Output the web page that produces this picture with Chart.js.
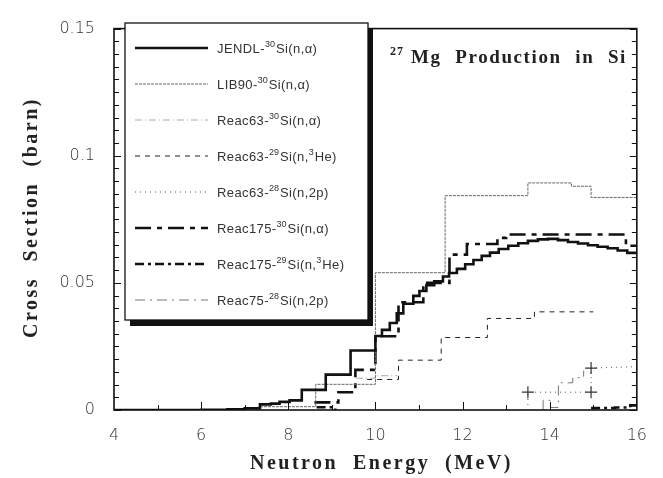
<!DOCTYPE html>
<html>
<head>
<meta charset="utf-8">
<script src="https://cdn.jsdelivr.net/npm/chart.js@4.4.1/dist/chart.umd.min.js"></script>
<style>
  html, body { margin: 0; padding: 0; background: #fff; }
  #wrap { width: 663px; height: 478px; }
</style>
</head>
<body>
<div id="wrap"><canvas id="c" width="663" height="478"></canvas></div>
<script>
// energies (MeV) are bin starts, values in barn
const jendlE = [4.0, 6.0, 6.6, 7.0, 7.35, 7.6, 7.8, 8.03, 8.31, 8.86, 9.43, 10.0, 10.15, 10.33, 10.49, 10.64, 10.87, 11.01, 11.17, 11.35, 11.55, 11.69, 11.87, 12.06, 12.25, 12.44, 12.63, 12.83, 13.05, 13.28, 13.5, 13.73, 13.96, 14.19, 14.42, 14.65, 14.88, 15.1, 15.33, 15.56, 15.78, 16.0];
const jendlXS = [0, 0.0001, 0.0003, 0.0007, 0.0022, 0.0025, 0.0032, 0.0038, 0.0079, 0.0139, 0.0234, 0.0291, 0.0315, 0.0342, 0.038, 0.0418, 0.0449, 0.0468, 0.0491, 0.0506, 0.0525, 0.0539, 0.0555, 0.0573, 0.059, 0.0606, 0.0619, 0.0633, 0.0646, 0.0656, 0.0665, 0.0671, 0.0673, 0.0668, 0.0661, 0.0655, 0.0648, 0.0642, 0.0636, 0.0627, 0.0618, 0.0614];

const lib90E = [7.35, 8.63, 10.0, 11.6, 13.5, 14.5, 14.95, 16.0];
const lib90XS = [0.0013, 0.0101, 0.054, 0.0843, 0.0893, 0.088, 0.0836, 0.0836];

const r63aE = [9.55, 10.0, 10.5];
const r63aXS = [0.0125, 0.0135, 0.0135];

const r63hE = [9.81, 10.53, 11.51, 12.57, 13.65, 15.0];
const r63hXS = [0.012, 0.0196, 0.0285, 0.036, 0.0386, 0.0386];

const r63pE = [13.5, 13.5, 14.95, 14.95, 15.9];
const r63pXS = [0, 0.007, 0.007, 0.0165, 0.017];

const r175aE = [8.6, 9.15, 9.54, 10.0, 10.53, 11.1, 11.7, 12.1, 12.8, 13.0, 15.75, 16.0];
const r175aXS = [0.003, 0.007, 0.0158, 0.029, 0.0424, 0.05, 0.0611, 0.0653, 0.0677, 0.069, 0.0646, 0.0646];

const r175hE = [8.65, 9.08, 9.1, 14.95, 15.5, 15.85, 16.0];
const r175hXS = [0.0011, 0, null, 0.0008, 0.001, 0.0018, 0.0018];

const r75pE = [13.85, 13.85, 14.02, 14.2, 14.53, 14.78];
const r75pXS = [0, 0.0038, 0.001, 0.0107, 0.0127, 0.0155];

const legendText = [
  'JENDL-^{30}Si(n,α)',
  'LIB90-^{30}Si(n,α)',
  'Reac63-^{30}Si(n,α)',
  'Reac63-^{29}Si(n,^{3}He)',
  'Reac63-^{28}Si(n,2p)',
  'Reac175-^{30}Si(n,α)',
  'Reac175-^{29}Si(n,^{3}He)',
  'Reac75-^{28}Si(n,2p)'
];
const yTicks = [0, 0.05, 0.1, 0.15];
const xTicks = [4, 6, 8, 10, 12, 14, 16];

function pts(es, vs) {
  return es.map((e, i) => ({ x: e, y: vs[i] }));
}

function line(i, es, vs, color, width, dash, extra) {
  return Object.assign({
    label: legendText[i].replace(/\^\{|\}/g, ''),
    data: pts(es, vs),
    borderColor: color,
    borderWidth: width,
    borderDash: dash,
    stepped: true,
    pointRadius: 0,
    fill: false,
    spanGaps: false
  }, extra || {});
}

const datasets = [
  line(0, jendlE, jendlXS, '#111', 2.6, []),
  line(1, lib90E, lib90XS, '#666', 1, [3, 1]),
  line(2, r63aE, r63aXS, '#aaa', 1, [7, 3, 1, 3]),
  line(3, r63hE, r63hXS, '#222', 1, [5, 5]),
  line(4, r63pE, r63pXS, '#555', 1, [1, 4], {
    stepped: false, pointStyle: 'cross', pointRadius: [0, 6, 6, 6, 0],
    pointBorderColor: '#333', pointBorderWidth: 1.2
  }),
  line(5, r175aE, r175aXS, '#111', 2.6, [16, 6, 5, 6]),
  line(6, r175hE, r175hXS, '#111', 2.6, [9, 4, 3, 4]),
  line(7, r75pE, r75pXS, '#777', 1, [10, 5, 2, 5])
];

// text with ^{..} superscripts
function richText(ctx, str, x, y, size) {
  const parts = str.split(/(\^\{[^}]*\})/);
  parts.forEach(p => {
    if (!p) return;
    if (p.startsWith('^{')) {
      const t = p.slice(2, -1);
      ctx.font = Math.round(size * 0.68) + 'px "Liberation Sans"';
      ctx.fillText(t, x, y - size * 0.45);
      x += ctx.measureText(t).width + 1;
    } else {
      ctx.font = size + 'px "Liberation Sans"';
      ctx.letterSpacing = '0.4px';
      ctx.fillText(p, x, y);
      x += ctx.measureText(p).width;
      ctx.letterSpacing = '0px';
    }
  });
}

// letter-spaced words spread over a given width
function wordSpread(ctx, text, x, y, width, ls) {
  ctx.letterSpacing = ls + 'px';
  const words = text.split(' ');
  const ws = words.map(w => ctx.measureText(w).width);
  const gap = (width - ws.reduce((s, v) => s + v, 0)) / (words.length - 1);
  words.forEach((w, i) => {
    ctx.fillText(w, x, y);
    x += ws[i] + gap;
  });
  ctx.letterSpacing = '0px';
}

const decor = {
  id: 'decor',
  afterDatasetsDraw(chart) {
    const { ctx, chartArea: a, scales: { x, y } } = chart;
    ctx.save();
    ctx.setLineDash([]);
    ctx.strokeStyle = '#111';

    // minor ticks on left / right / bottom
    ctx.lineWidth = 1;
    for (let i = 0; i <= 30; i++) {
      const py = Math.round(y.getPixelForValue(i * 0.005)) + 0.5;
      const len = i % 10 === 0 ? 7 : 5;
      ctx.beginPath();
      ctx.moveTo(a.left, py); ctx.lineTo(a.left + len, py);
      ctx.moveTo(a.right, py); ctx.lineTo(a.right - len, py);
      ctx.stroke();
    }
    for (let e = 5; e < 16; e++) {
      const px = Math.round(x.getPixelForValue(e)) + 0.5;
      const len = e % 2 === 0 ? 8 : 5;
      ctx.beginPath();
      ctx.moveTo(px, a.bottom); ctx.lineTo(px, a.bottom - len);
      ctx.stroke();
    }

    // frame
    ctx.lineWidth = 1.6;
    ctx.strokeRect(a.left, a.top, a.right - a.left, a.bottom - a.top);

    // legend box with heavy shadow
    const bx = 125, by = 23, bw = 243, bh = 297;
    ctx.fillStyle = '#111';
    ctx.fillRect(bx + 5, by + 6, bw, bh);
    ctx.fillStyle = '#fff';
    ctx.fillRect(bx, by, bw, bh);
    ctx.lineWidth = 1.3;
    ctx.strokeRect(bx, by, bw, bh);

    chart.data.datasets.forEach((ds, i) => {
      const ly = 48 + i * 36;
      ctx.save();
      ctx.strokeStyle = ds.borderColor;
      ctx.lineWidth = ds.borderWidth;
      ctx.setLineDash(ds.borderDash || []);
      ctx.beginPath();
      ctx.moveTo(135, ly); ctx.lineTo(208, ly);
      ctx.stroke();
      ctx.restore();
      ctx.fillStyle = '#333';
      ctx.textBaseline = 'alphabetic';
      ctx.textAlign = 'left';
      richText(ctx, legendText[i], 217, ly + 5, 13);
    });

    // plot title
    ctx.fillStyle = '#222';
    ctx.textAlign = 'left';
    ctx.font = 'bold 12px "Liberation Serif"';
    ctx.letterSpacing = '1px';
    ctx.fillText('27', 390, 55);
    ctx.font = 'bold 19px "Liberation Serif"';
    wordSpread(ctx, 'Mg Production in Si', 411, 63, 216, 1.6);

    // axis titles
    ctx.font = 'bold 20px "Liberation Serif"';
    wordSpread(ctx, 'Neutron Energy (MeV)', 250, 469, 263, 2.5);
    ctx.translate(37, 338);
    ctx.rotate(-Math.PI / 2);
    wordSpread(ctx, 'Cross Section (barn)', 0, 0, 241, 2.5);
    ctx.restore();
  }
};

new Chart(document.getElementById('c'), {
  type: 'line',
  data: { datasets: datasets },
  plugins: [decor],
  options: {
    responsive: false,
    animation: false,
    layout: { padding: { left: 0, right: 20, top: 15, bottom: 0 } },
    plugins: { legend: { display: false }, tooltip: { enabled: false } },
    scales: {
      x: {
        type: 'linear',
        min: 4, max: 16,
        grid: { display: false, drawTicks: false },
        border: { display: false },
        afterFit: s => { s.height = 68; },
        afterBuildTicks: s => { s.ticks = xTicks.map(v => ({ value: v })); },
        ticks: {
          padding: 16, color: '#333',
          font: { family: 'DejaVu Sans', size: 16, weight: 300 }
        }
      },
      y: {
        min: 0, max: 0.15,
        grid: { display: false, drawTicks: false },
        border: { display: false },
        afterFit: s => { s.width = 114; },
        afterBuildTicks: s => { s.ticks = yTicks.map(v => ({ value: v })); },
        ticks: {
          padding: 19, color: '#333',
          font: { family: 'DejaVu Sans', size: 16, weight: 300 },
          callback: v => String(Math.round(v * 100) / 100)
        }
      }
    }
  }
});
</script>
</body>
</html>
